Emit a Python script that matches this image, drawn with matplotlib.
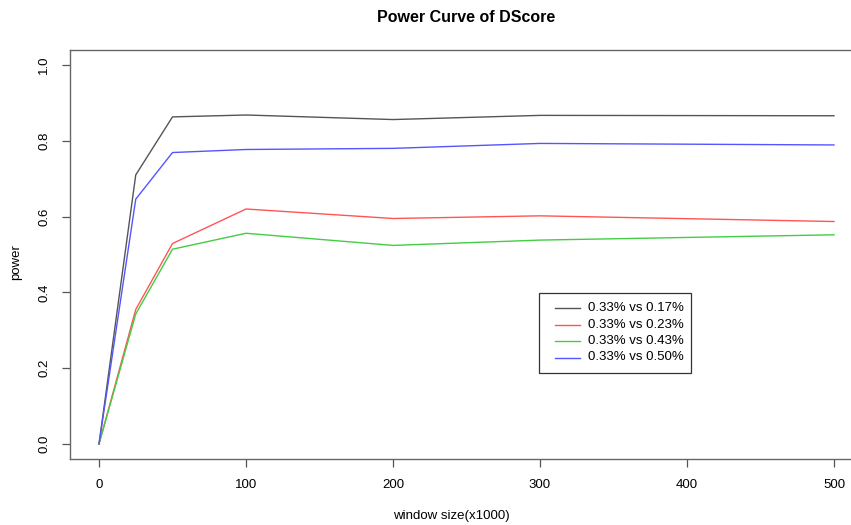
import matplotlib.pyplot as plt
import numpy as np
from matplotlib.patches import Rectangle
from matplotlib.lines import Line2D

plt.rcParams['font.family'] = ['Liberation Sans', 'DejaVu Sans']

# window sizes (x1000) and power for each comparison
window = [0, 25, 50, 100, 200, 300, 500]
p_017 = [0.0, 0.710, 0.863, 0.868, 0.856, 0.867, 0.866]
p_023 = [0.0, 0.355, 0.529, 0.620, 0.595, 0.602, 0.587]
p_043 = [0.0, 0.343, 0.514, 0.556, 0.524, 0.538, 0.552]
p_050 = [0.0, 0.646, 0.769, 0.777, 0.780, 0.793, 0.789]

labels = ['0.33% vs 0.17%', '0.33% vs 0.23%', '0.33% vs 0.43%', '0.33% vs 0.50%']
colors = ['#555555', '#ff5555', '#44cc44', '#5555ff']

W, H = 851, 525
fig = plt.figure(figsize=(W / 100, H / 100), dpi=100)
# plot region in pixels: left, right, top, bottom
l, r, t, b = 69.6, 863.4, 49.8, 459.2
ax = fig.add_axes([l / W, 1 - b / H, (r - l) / W, (b - t) / H])

for ys, c in zip([p_017, p_023, p_043, p_050], colors):
    ax.plot(window, ys, color=c, lw=1.0)

ax.set_xlim(-20, 520)
ax.set_ylim(-0.04, 1.04)
ax.set_xticks([0, 100, 200, 300, 400, 500])
ax.set_yticks(np.arange(0, 1.01, 0.2))
ax.set_yticklabels(['%.1f' % v for v in np.arange(0, 1.01, 0.2)], rotation=90, va='center')
ax.tick_params(direction='out', length=6, width=0.9, color='#555555', labelsize=9.5, pad=8)
for s in ax.spines.values():
    s.set_color('#666666')
    s.set_linewidth(1.0)

fig.text(466 / W, 1 - 17 / H, 'Power Curve of DScore', ha='center', va='center',
         fontsize=11.5, fontweight='bold')
fig.text(451 / W, 1 - 516 / H, 'window size(x1000)', ha='center', va='center', fontsize=9.5)
fig.text(16 / W, 1 - 262 / H, 'power', ha='center', va='center', fontsize=9.5, rotation=90)

# legend box drawn in figure pixel coordinates, R style
def fx(px):
    return px / W

def fy(py):
    return 1 - py / H

lx0, lx1, ly0, ly1 = 539, 691, 293, 373
fig.add_artist(Rectangle((fx(lx0), fy(ly1)), fx(lx1) - fx(lx0), fy(ly0) - fy(ly1),
                         transform=fig.transFigure, facecolor='white',
                         edgecolor='#333333', lw=0.9))
for i, (lab, c) in enumerate(zip(labels, colors)):
    yy = 308 + i * 16.5
    fig.add_artist(Line2D([fx(555), fx(580)], [fy(yy), fy(yy)],
                          transform=fig.transFigure, color=c, lw=1.0))
    fig.text(fx(588), fy(yy), lab, ha='left', va='center', fontsize=9.5)

fig.savefig('out.png', dpi=100)
